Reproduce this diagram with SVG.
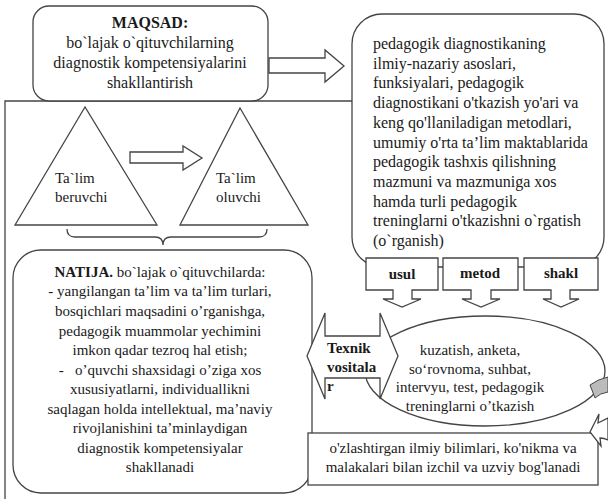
<svg xmlns="http://www.w3.org/2000/svg" width="608" height="499" viewBox="0 0 608 499">
<style>
.s{fill:#fff;stroke:#444;stroke-width:1.3}
.n{fill:none;stroke:#444;stroke-width:1.3}
text{font-family:"Liberation Serif","Times New Roman",serif;font-size:15px;fill:#1a1a1a}
.l{font-size:16px}
.c{text-anchor:middle}
.b{font-weight:bold}
</style>
<rect width="608" height="499" fill="#fff"/>
<g id="frame"><path class="n" d="M5,499 V101 H352"/></g>
<g id="right-box">
<rect class="s" x="352" y="14" width="252" height="253" rx="30"/>
<text class="l" x="373" y="49">pedagogik diagnostikaning</text>
<text class="l" x="373" y="69">ilmiy-nazariy asoslari,</text>
<text class="l" x="373" y="88">funksiyalari, pedagogik</text>
<text class="l" x="373" y="108">diagnostikani o'tkazish yo'ari va</text>
<text class="l" x="373" y="128">keng qo'llaniladigan metodlari,</text>
<text class="l" x="373" y="148">umumiy o'rta ta’lim maktablarida</text>
<text class="l" x="373" y="167">pedagogik tashxis qilishning</text>
<text class="l" x="373" y="187">mazmuni va mazmuniga xos</text>
<text class="l" x="373" y="207">hamda turli pedagogik</text>
<text class="l" x="373" y="226">treninglarni o'tkazishni o`rgatish</text>
<text class="l" x="373" y="246">(o`rganish)</text>
</g>
<g id="maqsad">
<rect class="s" x="33" y="6" width="235" height="95" rx="16"/>
<text class="l c b" x="150" y="28">MAQSAD:</text>
<text class="l c" x="150" y="48">bo`lajak o`qituvchilarning</text>
<text class="l c" x="150" y="68">diagnostik kompetensiyalarini</text>
<text class="l c" x="150" y="88">shakllantirish</text>
</g>
<g id="talim-beruvchi">
<polygon class="s" points="85,107 15,225 157,225"/>
<text x="55" y="183">Ta`lim</text>
<text x="55" y="202">beruvchi</text>
</g>
<g id="talim-oluvchi">
<polygon class="s" points="240,108 180,225 308,225"/>
<text x="216" y="183">Ta`lim</text>
<text x="216" y="202">oluvchi</text>
</g>
<g id="natija">
<rect class="s" x="13" y="250" width="299" height="243" rx="28"/>
<text class="c" x="160" y="277"><tspan class="b">NATIJA.</tspan> bo`lajak o`qituvchilarda:</text>
<text class="c" x="160" y="296">- yangilangan ta’lim va ta’lim turlari,</text>
<text class="c" x="160" y="316">bosqichlari maqsadini o’rganishga,</text>
<text class="c" x="160" y="336">pedagogik muammolar yechimini</text>
<text class="c" x="160" y="355">imkon qadar tezroq hal etish;</text>
<text class="c" x="160" y="375" xml:space="preserve">-   o’quvchi shaxsidagi o’ziga xos</text>
<text class="c" x="160" y="394">xususiyatlarni, individuallikni</text>
<text class="c" x="160" y="414">saqlagan holda intellektual, ma’naviy</text>
<text class="c" x="160" y="433">rivojlanishini ta’minlaydigan</text>
<text class="c" x="160" y="453">diagnostik kompetensiyalar</text>
<text class="c" x="160" y="472">shakllanadi</text>
</g>
<g id="usul">
<path class="s" d="M366,258 H438 V290 H412 V299 H421 L402,307 L383,299 H393 V290 H366 Z"/>
<text class="c b" x="402" y="279">usul</text>
</g>
<g id="metod">
<path class="s" d="M443,258 H518 V290 H491 V299 H500 L481,307 L462,299 H471 V290 H443 Z"/>
<text class="c b" x="480" y="278">metod</text>
</g>
<g id="shakl">
<path class="s" d="M524,258 H598 V290 H570 V299 H579 L561,307 L543,299 H551 V290 H524 Z"/>
<text class="c b" x="561" y="278">shakl</text>
</g>
<g id="ellipse-node">
<ellipse class="s" cx="485" cy="371" rx="120" ry="55"/>
<text class="c" x="470" y="355">kuzatish, anketa,</text>
<text class="c" x="470" y="374">so‘rovnoma, suhbat,</text>
<text class="c" x="470" y="392">intervyu, test, pedagogik</text>
<text class="c" x="470" y="411">treninglarni o’tkazish</text>
</g>
<g id="texnik">
<path class="s" d="M307,356 L325,313 V336 H380 V313 L398,356 L380,399 V378 H325 V399 Z"/>
<text class="b" x="327" y="353">Texnik</text>
<text class="b" x="327" y="372">vositala</text>
<text class="b" x="327" y="391">r</text>
</g>
<g id="bottom-box">
<rect class="s" x="308" y="433" width="290" height="52"/>
<text class="c" x="453" y="453">o'zlashtirgan ilmiy bilimlari, ko'nikma va</text>
<text class="c" x="453" y="472">malakalari bilan izchil va uzviy bog'lanadi</text>
</g>
<g id="connectors">
<path class="s" d="M269,58 H325 V50 L344,66 L325,82 V73 H269 Z"/>
<path class="s" d="M130,152 H183 V146 L202,158 L183,170 V163 H130 Z"/>
<path class="n" d="M67,229 Q67,237 75,237 H155 Q163,237 163,245 Q163,237 171,237 H259 Q267,237 267,229"/>
<path d="M590,385 Q598,379 608,377 V392 Q600,393 595,398 Z" fill="#bbb" stroke="#444" stroke-width="1"/>
<path class="s" d="M590,432 L599,414 L598,423 Q604,420 608,418 V440 Q604,438 600,438 L601,446 Z"/>
</g>
</svg>
